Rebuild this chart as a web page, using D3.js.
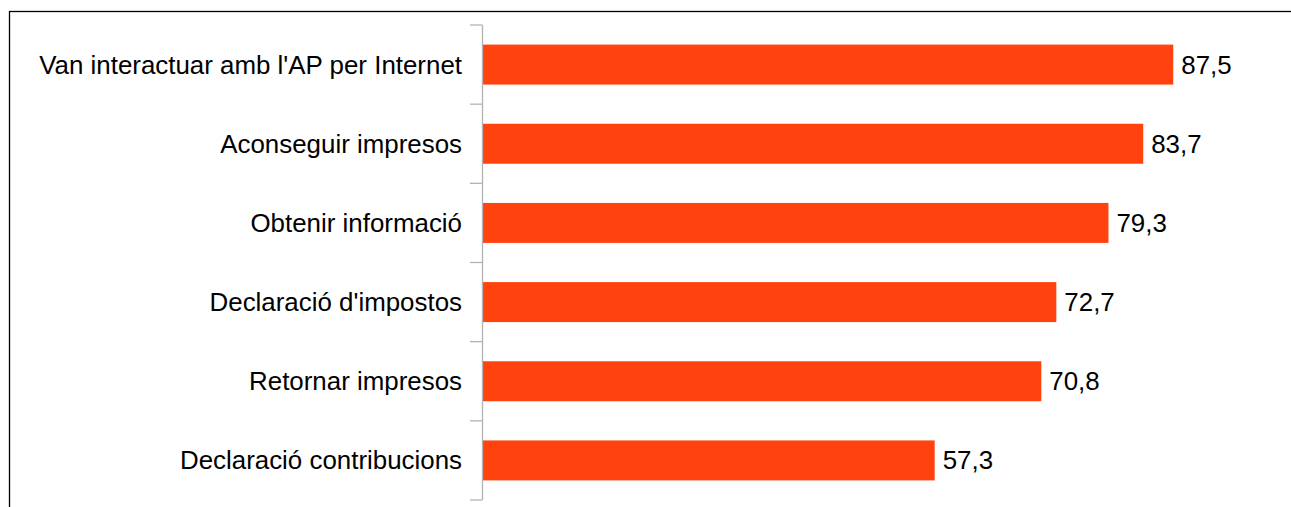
<!DOCTYPE html>
<html>
<head>
<meta charset="utf-8">
<script src="https://cdn.jsdelivr.net/npm/d3@7"></script>
<style>
  html, body { margin: 0; padding: 0; background: #ffffff; }
  svg { display: block; }
  text { font-family: "Liberation Sans", Arial, sans-serif; fill: #000000; }
</style>
</head>
<body>
<svg id="chart" width="1291" height="507"></svg>
<script>
const categories = [
  "Van interactuar amb l'AP per Internet",
  "Aconseguir impresos",
  "Obtenir informació",
  "Declaració d'impostos",
  "Retornar impresos",
  "Declaració contribucions"
];
const values = [87.5, 83.7, 79.3, 72.7, 70.8, 57.3];
const xDomain = [0, 100];

const data = categories.map((c, i) => ({ category: c, value: values[i] }));

const svg = d3.select("#chart");
const W = 1291, H = 507;
const plot = { left: 482, right: 1272, top: 25, bottom: 500 };

svg.append("rect").attr("x", 0).attr("y", 0).attr("width", W).attr("height", H).attr("fill", "#ffffff");
// outer frame (only top and left visible)
svg.append("rect")
  .attr("x", 9.5).attr("y", 11.5)
  .attr("width", W + 20).attr("height", H + 20)
  .attr("fill", "none").attr("stroke", "#000000").attr("stroke-width", 1.3);

const x = d3.scaleLinear().domain(xDomain).range([plot.left, plot.right]);
const yCat = d3.scaleBand().domain(categories).range([plot.top, plot.bottom]).padding(0);
const yBar = d3.scaleBand().domain(categories).range([plot.top, plot.bottom])
  .paddingInner(0.495).paddingOuter(0.2475);

const fmt = v => d3.format(".1f")(v).replace(".", ",");
const fontSize = 25.9;

// bars
svg.append("g").selectAll("rect").data(data).join("rect")
  .attr("x", x(0))
  .attr("y", d => yBar(d.category))
  .attr("width", d => x(d.value) - x(0))
  .attr("height", yBar.bandwidth())
  .attr("fill", "#ff420e");

// axis line and ticks at category boundaries
const axisG = svg.append("g").attr("stroke", "#b3b3b3").attr("stroke-width", 1.3);
axisG.append("line")
  .attr("x1", plot.left + 0.5).attr("x2", plot.left + 0.5)
  .attr("y1", plot.top).attr("y2", plot.bottom);
const bounds = categories.map(c => yCat(c)).concat([plot.bottom]);
axisG.selectAll("line.tick").data(bounds).join("line")
  .attr("class", "tick")
  .attr("x1", plot.left - 12).attr("x2", plot.left + 0.5)
  .attr("y1", d => d).attr("y2", d => d);

// category labels
svg.append("g").selectAll("text").data(data).join("text")
  .attr("x", plot.left - 20)
  .attr("y", d => yCat(d.category) + yCat.bandwidth() / 2)
  .attr("dy", "0.35em")
  .attr("text-anchor", "end")
  .attr("font-size", fontSize)
  .text(d => d.category);

// value labels
svg.append("g").selectAll("text").data(data).join("text")
  .attr("x", d => x(d.value) + 8)
  .attr("y", d => yCat(d.category) + yCat.bandwidth() / 2)
  .attr("dy", "0.35em")
  .attr("text-anchor", "start")
  .attr("font-size", fontSize)
  .text(d => fmt(d.value));
</script>
</body>
</html>
